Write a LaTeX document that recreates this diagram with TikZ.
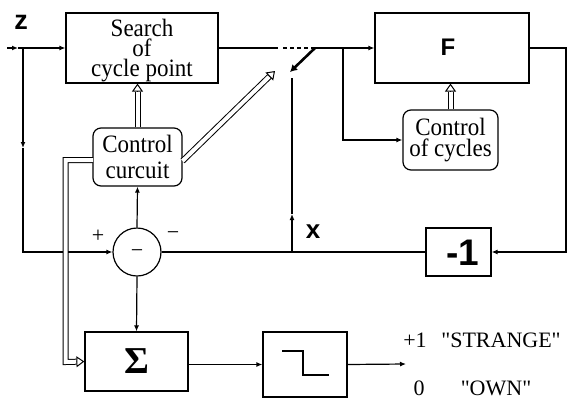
\documentclass[tikz,border=0pt]{standalone}
\usepackage{fontspec}
\setmainfont{Liberation Serif}[Ligatures=TeXOff]
\setsansfont{Liberation Sans}
\newfontfamily\boxserif{Liberation Serif}[Ligatures=TeXOff, FakeStretch=0.92]
\usetikzlibrary{arrows.meta,calc}
\tikzset{
  blk/.style={draw, inner sep=0pt, align=center},
  rbox/.style={blk, rounded corners=8pt},
  btxt/.style={inner sep=0pt, align=center, font=\fontsize{25}{#1}\selectfont\boxserif},
  txt/.style={inner sep=0pt, font=\fontsize{22}{22}\selectfont},
  bsf/.style={inner sep=0pt, font=\fontsize{#1}{#1}\selectfont\sffamily\bfseries},
  dblline/.style={double, double distance=4pt, line width=1pt, shorten >=8pt},
  opentip/.style={line width=1pt, -{Triangle[length=8pt,width=11pt,fill=white]}},
}
\newcommand\openhead[2]{\draw[opentip] ($(#2)!8pt!(#1)$) -- (#2);}
\begin{document}
\begin{tikzpicture}[x=1pt,y=-1pt, line width=1.2pt, >={Latex[length=6pt,width=5pt]}]
\useasboundingbox (0,0) rectangle (567,399);
% blocks
\node[blk, minimum width=152pt, minimum height=70pt] (search) at (142,48) {};
\node[btxt=20] (searchtxt) at (142,51) {Search\\of\\cycle point};
\node[blk, minimum width=154pt, minimum height=70pt] (F) at (452,48) {};
\node[bsf=24] (Flab) at (448,47) {F};
\node[rbox, btxt=26, draw, minimum width=89pt, minimum height=58pt] (cc) at (137.5,157) {Control\\curcuit};
\node[rbox, btxt=21, draw, minimum width=95pt, minimum height=60pt] (coc) at (450.5,140) {Control\\of cycles};
\node[draw, circle, minimum size=48pt, inner sep=0pt] (sum) at (137,252) {};
\node[txt] (summinus) at (137,254) {−};
\node[blk, minimum width=65pt, minimum height=48pt] (m1) at (458.5,252) {};
\node[bsf=37] (m1lab) at (463,253) {-1};
\node[blk, minimum width=103pt, minimum height=59pt] (sigma) at (136.5,361.5) {\fontsize{38}{38}\selectfont\bfseries Σ};
\node[blk, minimum width=84pt, minimum height=65pt] (step) at (305,364.5) {};
\draw (282,351) -- (303,351) -- (303,375) -- (329,375);
% coordinates
\coordinate (in0) at (7,48);
\coordinate (inA) at (18,48);
\coordinate (brZ) at (23,48);
\coordinate (brM) at (23,148);
\coordinate (brB) at (23,252);
\coordinate (s1) at (278,48);
\coordinate (s2) at (283,48);
\coordinate (swA) at (315,48);
\coordinate (swB) at (290,72);
\coordinate (xT) at (292,78);
\coordinate (xM) at (292,214);
\coordinate (xB) at (292,252);
\coordinate (brF) at (343,48);
\coordinate (fR) at (566,48);
\coordinate (fRB) at (566,252);
\coordinate (out) at (406,364);
\coordinate (ccL) at (93,160);
\coordinate (dA) at (65.5,160);
\coordinate (dB) at (65.5,362);
\coordinate (dgS) at (182.5,161);
\coordinate (dgE) at (275,71);
% connectors
\draw[->] (in0) -- (inA);
\draw[->] (inA) -- (search.west);
\draw[->] (brZ) -- (brM);
\draw[->] (brM) -- (brB) -- (sum.west);
\draw (search.east) -- (s1);
\draw[dash pattern=on 4pt off 3pt] (s2) -- (swA);
\draw[line width=2.6pt, -{Latex[length=7pt,width=8pt]}] (swA) -- (swB);
\draw[->] (swA) -- (F.west);
\draw[->] (brF) |- (coc.west);
\draw[->] (F.east) -- (fR) -- (fRB) -- (m1.east);
\draw (m1.west) -- (sum.east);
\draw[->] (xB) -- (xM);
\draw (xM) -- (xT);
\draw[->] (sum.north) -- (cc.south);
\draw[->] (sum.south) -- (sigma.north);
\draw[->] (sigma.east |- step.west) -- (step.west);
\draw[->] (step.east) -- (out);
% double arrows
\draw[dblline] (cc.north) -- (cc.north |- search.south);
\openhead{cc.north}{cc.north |- search.south}
\draw[dblline] (coc.north) -- (coc.north |- F.south);
\openhead{coc.north}{coc.north |- F.south}
\draw[dblline] (dgS) -- (dgE);
\openhead{dgS}{dgE}
\draw[dblline] (ccL) -- (dA) -- (dB) -- (sigma.west);
\openhead{dB}{sigma.west}
% labels
\node[bsf=27] (zlab) at (21,22) {z};
\node[bsf=26] (xlab) at (313,232) {x};
\node[txt] (plus) at (98,236) {+};
\node[txt] (minusR) at (173,236) {−};
\node[txt] (p1) at (415,340) {+1};
\node[txt] (strange) at (501,340) {"STRANGE"};
\node[txt] (zero) at (419,388) {0};
\node[txt] (own) at (496,388) {"OWN"};
\end{tikzpicture}
\end{document}
